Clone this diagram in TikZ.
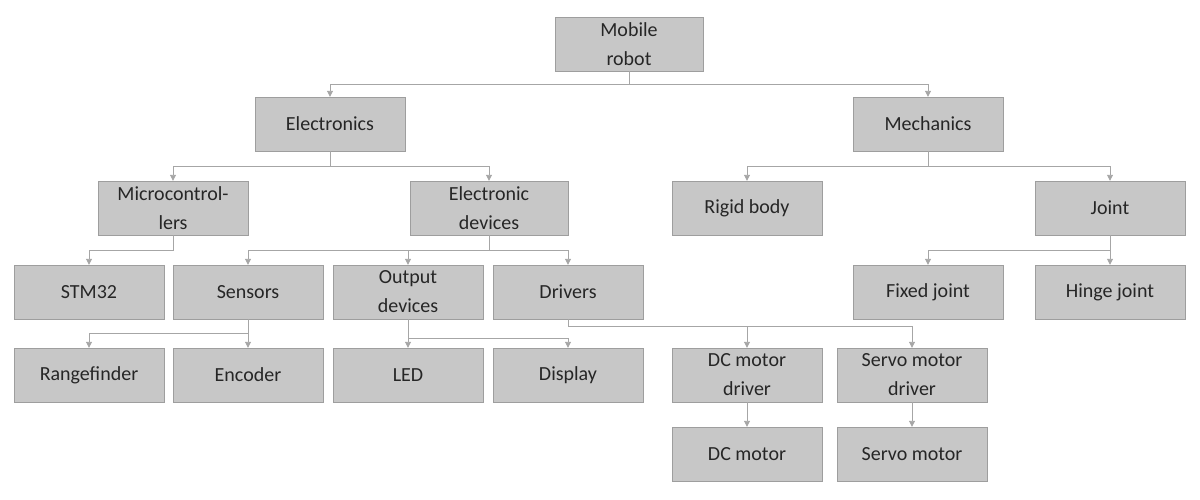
\documentclass[tikz,border=0pt]{standalone}
\usepackage{fontspec}
\setmainfont{Carlito}
\usetikzlibrary{arrows.meta}
\begin{document}
\begin{tikzpicture}[x=1pt,y=-1pt,
  box/.style={draw=black!38,fill=black!22,minimum width=150pt,minimum height=54pt,inner sep=1pt,align=center,font=\fontsize{20}{29}\selectfont,text=black!85},
  conn/.style={draw=black!35,line width=0.9pt,-{Triangle[width=6pt,length=6pt]}}]
\useasboundingbox (0,0) rectangle (1200,499);
\node[box,minimum width=148pt] (mr) at (629,44) {Mobile\\robot};
\node[box] (el) at (330,124) {Electronics};
\node[box] (me) at (928,124) {Mechanics};
\node[box] (mc) at (173,208) {Microcontrol-\\lers};
\node[box,minimum width=158pt] (ed) at (489,208) {Electronic\\devices};
\node[box] (rb) at (747,208) {Rigid body};
\node[box] (jo) at (1110,208) {Joint};
\node[box] (st) at (89,292) {STM32};
\node[box] (se) at (248,292) {Sensors};
\node[box] (od) at (408,292) {Output\\devices};
\node[box] (dr) at (568,292) {Drivers};
\node[box] (fj) at (928,292) {Fixed joint};
\node[box] (hj) at (1110,292) {Hinge joint};
\node[box] (rf) at (89,375) {Rangefinder};
\node[box] (en) at (248,375) {Encoder};
\node[box] (le) at (408,375) {LED};
\node[box] (di) at (568,375) {Display};
\node[box] (dd) at (747,375) {DC motor\\driver};
\node[box] (sd) at (912,375) {Servo motor\\driver};
\node[box] (dm) at (747,454) {DC motor};
\node[box] (sm) at (912,454) {Servo motor};
\draw[conn] (mr.south) -- ++(0,13) -| (el.north);
\draw[conn] (mr.south) -- ++(0,13) -| (me.north);
\draw[conn] (el.south) -- ++(0,15) -| (mc.north);
\draw[conn] (el.south) -- ++(0,15) -| (ed.north);
\draw[conn] (me.south) -- ++(0,15) -| (rb.north);
\draw[conn] (me.south) -- ++(0,15) -| (jo.north);
\draw[conn] (mc.south) -- ++(0,15) -| (st.north);
\draw[conn] (ed.south) -- ++(0,15) -| (se.north);
\draw[conn] (ed.south) -- ++(0,15) -| (od.north);
\draw[conn] (ed.south) -- ++(0,15) -| (dr.north);
\draw[conn] (jo.south) -- ++(0,15) -| (fj.north);
\draw[conn] (jo.south) -- (hj.north);
\draw[conn] (se.south) -- ++(0,14) -| (rf.north);
\draw[conn] (se.south) -- (en.north);
\draw[conn] (od.south) -- (le.north);
\draw[conn] (od.south) -- ++(0,19) -| (di.north);
\draw[conn] (dr.south) -- ++(0,7) -| (dd.north);
\draw[conn] (dr.south) -- ++(0,7) -| (sd.north);
\draw[conn] (dd.south) -- (dm.north);
\draw[conn] (sd.south) -- (sm.north);
\end{tikzpicture}
\end{document}
